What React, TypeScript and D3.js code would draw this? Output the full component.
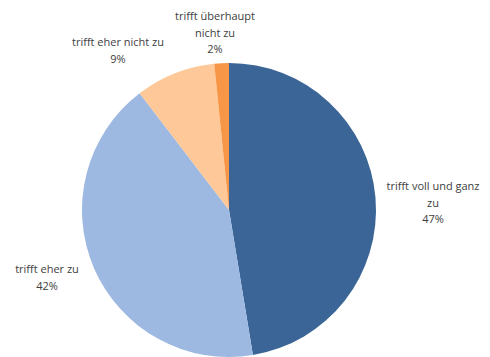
import React from "react";
import * as d3 from "d3";

const categories = ["trifft voll und ganz zu", "trifft eher zu", "trifft eher nicht zu", "trifft überhaupt nicht zu"];
const values = [47.4, 42.2, 8.8, 1.6];
const labelLines = [
  ["trifft voll und ganz", "zu", "47%"],
  ["trifft eher zu", "42%"],
  ["trifft eher nicht zu", "9%"],
  ["trifft überhaupt", "nicht zu", "2%"],
];
const colors = ["#3A6596", "#9DB9E1", "#FFC898", "#F79646"];
// label anchor (center x, first-line center y)
const labelPos = [
  [433, 186],
  [47, 269],
  [118, 42],
  [215, 16],
];

export default function App() {
  const W = 490, H = 357;
  const cx = 229, cy = 210, r = 147;
  const pie = d3.pie<number>().sort(null).value((d) => d)(values);
  const arc = d3.arc<d3.PieArcDatum<number>>().innerRadius(0).outerRadius(r);
  const lh = 16.5;
  return (
    <svg width={W} height={H} style={{ position: "absolute", left: 0, top: 0, background: "#fff" }}>
      <g transform={`translate(${cx},${cy})`}>
        {pie.map((p, i) => (
          <path key={categories[i]} d={arc(p) || ""} fill={colors[i]} />
        ))}
      </g>
      {labelLines.map((lines, i) => (
        <text key={i} textAnchor="middle" fontFamily="'Open Sans', sans-serif" fontSize={11} fill="#404040">
          {lines.map((t, j) => (
            <tspan key={j} x={labelPos[i][0]} y={labelPos[i][1] + j * lh + 4}>{t}</tspan>
          ))}
        </text>
      ))}
    </svg>
  );
}
